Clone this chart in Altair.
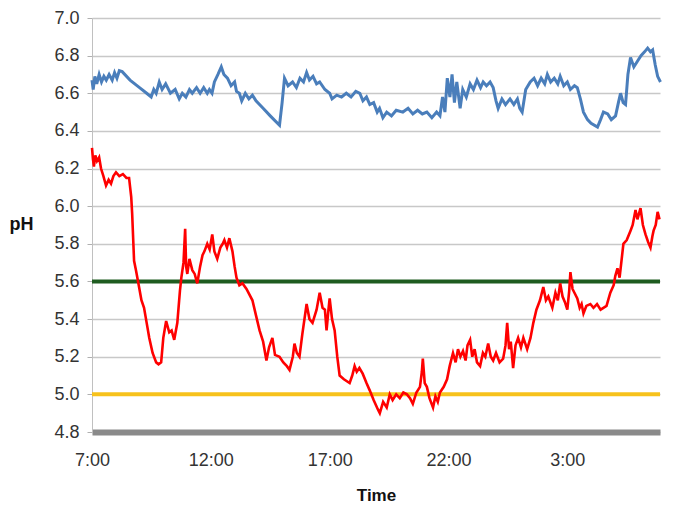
import altair as alt
import pandas as pd

# Hours after 7:00
blue_hours = [0.00, 0.05, 0.12, 0.20, 0.30, 0.40, 0.50, 0.60, 0.72, 0.85, 0.95, 1.05, 1.15, 1.27,
              1.60, 2.00, 2.30, 2.49, 2.60, 2.70, 2.83, 2.95, 3.10, 3.30, 3.50, 3.67, 3.80,
              3.95, 4.10, 4.22, 4.40, 4.55, 4.70, 4.85, 4.94, 5.05, 5.15, 5.30, 5.44, 5.55,
              5.70, 5.85, 6.00, 6.08, 6.20, 6.30, 6.45, 6.60, 6.75, 6.90, 7.20, 7.50, 7.89,
              8.00, 8.10, 8.25, 8.44, 8.60, 8.75, 8.90, 9.03, 9.15, 9.30, 9.45, 9.58, 9.80,
              10.00, 10.10, 10.30, 10.50, 10.70, 10.90, 11.10, 11.27, 11.40, 11.55, 11.69,
              11.85, 12.00, 12.10, 12.24, 12.40, 12.60, 12.80, 13.08, 13.30, 13.50, 13.70,
              13.90, 14.09, 14.30, 14.50, 14.64, 14.75, 14.85, 14.95, 15.06, 15.15, 15.25,
              15.35, 15.49, 15.60, 15.75, 15.91, 16.05, 16.20, 16.35, 16.46, 16.60, 16.75,
              16.88, 17.00, 17.09, 17.25, 17.40, 17.59, 17.75, 17.90, 18.00, 18.10, 18.25,
              18.44, 18.60, 18.75, 18.90, 19.05, 19.16, 19.30, 19.45, 19.60, 19.70, 19.85,
              20.00, 20.13, 20.30, 20.42, 20.55, 20.68, 20.85, 21.00, 21.27, 21.40, 21.52,
              21.70, 21.85, 22.03, 22.15, 22.24, 22.35, 22.45, 22.55, 22.66, 22.80, 22.95,
              23.10, 23.25, 23.38, 23.50, 23.59, 23.70, 23.80, 23.92]
blue_ph = [6.67, 6.62, 6.69, 6.65, 6.70, 6.66, 6.69, 6.67, 6.70, 6.67, 6.71, 6.68, 6.72, 6.715,
           6.67, 6.63, 6.60, 6.58, 6.62, 6.60, 6.66, 6.62, 6.65, 6.60, 6.62, 6.57, 6.60,
           6.58, 6.62, 6.60, 6.63, 6.60, 6.63, 6.60, 6.62, 6.60, 6.66, 6.70, 6.74, 6.70,
           6.68, 6.64, 6.66, 6.61, 6.60, 6.56, 6.60, 6.57, 6.59, 6.56, 6.52, 6.48, 6.43,
           6.55, 6.68, 6.64, 6.66, 6.63, 6.68, 6.66, 6.71, 6.67, 6.69, 6.65, 6.66, 6.62,
           6.60, 6.57, 6.59, 6.58, 6.60, 6.58, 6.61, 6.60, 6.56, 6.58, 6.54,
           6.55, 6.50, 6.52, 6.47, 6.50, 6.48, 6.51, 6.50, 6.52, 6.49, 6.51,
           6.49, 6.50, 6.47, 6.50, 6.48, 6.58, 6.50, 6.68, 6.58, 6.70, 6.55,
           6.66, 6.52, 6.62, 6.58, 6.65, 6.62, 6.67, 6.63, 6.66, 6.64, 6.66,
           6.63, 6.56, 6.52, 6.57, 6.54, 6.57, 6.54, 6.57, 6.52, 6.50, 6.62,
           6.66, 6.68, 6.64, 6.68, 6.65, 6.70, 6.66, 6.68, 6.65, 6.69, 6.64,
           6.66, 6.62, 6.64, 6.63, 6.57, 6.50, 6.46, 6.44, 6.42, 6.46, 6.50,
           6.49, 6.46, 6.48, 6.55, 6.60, 6.55, 6.54, 6.70, 6.79, 6.74, 6.77,
           6.80, 6.82, 6.84, 6.82, 6.83, 6.75, 6.69, 6.66]

red_hours = [0.00, 0.04, 0.08, 0.14, 0.21, 0.30, 0.38, 0.48, 0.59, 0.70, 0.80, 0.90, 1.01,
             1.15, 1.30, 1.45, 1.56, 1.65, 1.69, 1.77, 1.85, 1.98, 2.08, 2.19, 2.30, 2.41,
             2.55, 2.70, 2.80, 2.91, 3.00, 3.12, 3.25, 3.35, 3.46, 3.59, 3.70, 3.76, 3.85,
             3.92, 3.96, 4.01, 4.10, 4.22, 4.32, 4.43, 4.55, 4.65, 4.73, 4.85, 4.95, 5.06,
             5.15, 5.27, 5.40, 5.50, 5.57, 5.68, 5.78, 5.91, 6.00, 6.08, 6.20, 6.33, 6.50,
             6.75, 6.90, 7.05, 7.20, 7.34, 7.45, 7.59, 7.70, 7.89, 8.05, 8.20, 8.31, 8.45,
             8.52, 8.62, 8.73, 8.85, 9.03, 9.15, 9.28, 9.45, 9.58, 9.70, 9.80, 9.87, 9.95,
             10.00, 10.10, 10.21, 10.32, 10.42, 10.60, 10.84, 10.95, 11.05, 11.14, 11.25,
             11.39, 11.55, 11.69, 11.85, 12.03, 12.11, 12.25, 12.40, 12.53, 12.65, 12.80,
             12.95, 13.10, 13.25, 13.38, 13.50, 13.65, 13.80, 13.88, 13.92, 14.00, 14.09,
             14.20, 14.35, 14.45, 14.55, 14.64, 14.80, 14.94, 15.05, 15.19, 15.30, 15.40,
             15.50, 15.61, 15.72, 15.80, 15.91, 16.00, 16.10, 16.20, 16.33, 16.45, 16.55,
             16.67, 16.78, 16.88, 17.00, 17.15, 17.30, 17.40, 17.47, 17.55, 17.62, 17.72,
             17.82, 17.93, 18.05, 18.15, 18.31, 18.45, 18.57, 18.70, 18.85, 18.99, 19.10,
             19.20, 19.37, 19.50, 19.60, 19.70, 19.80, 19.90, 20.00, 20.08, 20.13, 20.22,
             20.30, 20.42, 20.52, 20.60, 20.68, 20.80, 20.97, 21.10, 21.25, 21.40, 21.52,
             21.65, 21.81, 21.95, 22.02, 22.11, 22.20, 22.36, 22.50, 22.66, 22.75, 22.87,
             22.95, 23.08, 23.18, 23.29, 23.40, 23.50, 23.58, 23.63, 23.72, 23.80, 23.88]
red_ph = [6.31, 6.25, 6.21, 6.27, 6.24, 6.26, 6.20, 6.16, 6.11, 6.14, 6.12, 6.16, 6.18,
          6.16, 6.17, 6.15, 6.15, 6.05, 5.96, 5.71, 5.66, 5.57, 5.50, 5.46, 5.38, 5.30,
          5.22, 5.17, 5.16, 5.17, 5.30, 5.39, 5.33, 5.34, 5.29, 5.38, 5.55, 5.62, 5.70,
          5.88, 5.68, 5.64, 5.72, 5.66, 5.64, 5.59, 5.68, 5.74, 5.76, 5.80, 5.77, 5.85,
          5.76, 5.72, 5.78, 5.80, 5.82, 5.78, 5.83, 5.76, 5.68, 5.62, 5.58, 5.59, 5.56,
          5.50, 5.42, 5.34, 5.28, 5.18, 5.25, 5.30, 5.21, 5.20, 5.17, 5.15, 5.13, 5.20,
          5.27, 5.22, 5.20, 5.32, 5.48, 5.40, 5.38, 5.45, 5.54, 5.46, 5.45, 5.34, 5.45,
          5.51, 5.40, 5.34, 5.20, 5.10, 5.08, 5.06, 5.10, 5.15, 5.12, 5.14,
          5.11, 5.06, 5.02, 4.97, 4.92, 4.90, 4.96, 4.93, 5.00, 4.97, 5.00,
          4.98, 5.01, 5.00, 4.98, 4.95, 5.01, 5.04, 5.12, 5.19, 5.06, 5.04,
          4.98, 4.93, 4.99, 4.96, 5.01, 5.04, 5.08, 5.15, 5.22, 5.17, 5.24,
          5.20, 5.23, 5.18, 5.26, 5.29, 5.20, 5.24, 5.17, 5.15, 5.22, 5.20,
          5.27, 5.20, 5.18, 5.22, 5.17, 5.19, 5.26, 5.38, 5.24, 5.28, 5.14,
          5.26, 5.30, 5.25, 5.30, 5.24, 5.30, 5.38, 5.45, 5.50, 5.57, 5.50,
          5.52, 5.46, 5.54, 5.50, 5.59, 5.52, 5.49, 5.45, 5.55, 5.65, 5.56,
          5.54, 5.51, 5.46, 5.48, 5.43, 5.47, 5.48, 5.46, 5.48, 5.45, 5.46,
          5.47, 5.54, 5.58, 5.63, 5.67, 5.62, 5.80, 5.82, 5.87, 5.90, 5.98,
          5.93, 5.99, 5.90, 5.85, 5.81, 5.78, 5.84, 5.87, 5.90, 5.97, 5.93]

threshold_values = [5.6, 5.0]
threshold_colors = ["#1f5c20", "#f7c21c"]

tick_hours = [0, 5, 10, 15, 20]
tick_labels = ["7:00", "12:00", "17:00", "22:00", "3:00"]
y_ticks = [4.8, 5.0, 5.2, 5.4, 5.6, 5.8, 6.0, 6.2, 6.4, 6.6, 6.8, 7.0]

blue_df = pd.DataFrame({"h": blue_hours, "ph": blue_ph})
red_df = pd.DataFrame({"h": red_hours, "ph": red_ph})
thr_df = pd.DataFrame({"ph": threshold_values, "c": threshold_colors})

label_expr = "{" + ",".join(f"'{h}':'{l}'" for h, l in zip(tick_hours, tick_labels)) + "}[datum.value]"

x_scale = alt.Scale(domain=[0, 23.9], nice=False, zero=False)
y_scale = alt.Scale(domain=[4.8, 7.0], nice=False, zero=False)

x_axis = alt.Axis(values=tick_hours, labelExpr=label_expr, title="Time", grid=False,
                  ticks=False, domainColor="#8a8a8a", domainWidth=6, labelFlush=False,
                  labelFontSize=18, labelColor="#333333", labelPadding=19,
                  labelFont="Liberation Sans", titleFont="Liberation Sans",
                  titleFontSize=17, titleFontWeight="bold", titleColor="#111111",
                  titlePadding=18)
y_axis = alt.Axis(values=y_ticks, format=".1f", title="pH", grid=True,
                  gridColor="#c8c8c8", gridWidth=1.5, domainColor="#c0c0c0",
                  domainWidth=1, tickColor="#b0b0b0", tickSize=5, labelFontSize=18,
                  labelColor="#333333", labelPadding=8, labelFont="Liberation Sans",
                  labelFlush=False,
                  titleFont="Liberation Sans", titleFontSize=18, titleFontWeight="bold",
                  titleColor="#111111", titleAngle=0, titleX=-71, titleY=206,
                  titleAlign="center", titleBaseline="middle")

base_x = alt.X("h:Q", scale=x_scale, axis=x_axis)

rules = alt.Chart(thr_df).mark_rule(strokeWidth=4).encode(
    y=alt.Y("ph:Q", scale=y_scale, axis=y_axis),
    color=alt.Color("c:N", scale=None),
)

blue = alt.Chart(blue_df).mark_line(color="#4a7ebb", strokeWidth=3).encode(
    x=base_x, y=alt.Y("ph:Q", scale=y_scale, axis=y_axis)
)
red = alt.Chart(red_df).mark_line(color="#ff0000", strokeWidth=2.6).encode(
    x=base_x, y=alt.Y("ph:Q", scale=y_scale, axis=y_axis)
)

chart = alt.layer(rules, blue, red).properties(
    width=568, height=414,
    autosize=alt.AutoSizeParams(type="none"),
    padding={"left": 84, "top": 10, "right": 17, "bottom": 80},
).configure_view(stroke=None)

chart.save("out.html", embed_options={"renderer": "svg", "actions": False})
